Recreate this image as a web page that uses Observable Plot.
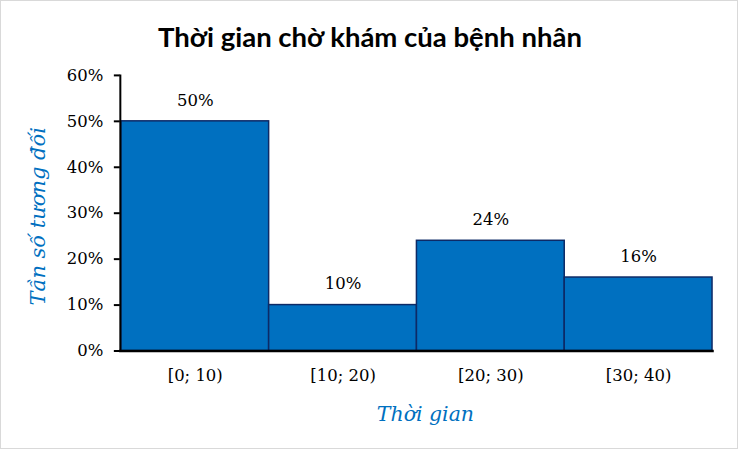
<!DOCTYPE html>
<html><head><meta charset="utf-8">
<script src="https://cdn.jsdelivr.net/npm/d3@7"></script>
<script src="https://cdn.jsdelivr.net/npm/@observablehq/plot@0.6"></script>
<style>
body{margin:0;background:#fff}
#wrap{position:relative;width:738px;height:449px;box-sizing:border-box;border:1px solid #d9d9d9;overflow:hidden;background:#fff}
#title{position:absolute;left:0;width:738px;top:18px;text-align:center;font-family:Lato,"Noto Sans",sans-serif;font-weight:700;font-size:27.5px;color:#000;line-height:36px}
#chart{position:absolute;left:-1px;top:-1px}
</style></head>
<body><div id="wrap"><div id="title">Thời gian chờ khám của bệnh nhân</div><div id="chart"></div></div>
<script>
const categories = ["[0; 10)", "[10; 20)", "[20; 30)", "[30; 40)"];
const values = [0.50, 0.10, 0.24, 0.16];
const yTicks = [0, 0.1, 0.2, 0.3, 0.4, 0.5, 0.6];
const xLabel = "Thời gian";
const yLabel = "Tần số tương đối";

const data = categories.map((c, i) => ({cat: c, v: values[i]}));
const pct = d3.format(".0%");
const serif = "DejaVu Serif";

const plot = Plot.plot({
  width: 738, height: 449,
  marginLeft: 120, marginRight: 25, marginTop: 75, marginBottom: 98,
  style: {fontSize: "16px", color: "#000", background: "transparent", fontFamily: serif},
  x: {domain: categories, padding: 0, label: null},
  y: {domain: [0, 0.6], label: null},
  marks: [
    Plot.barY(data, {x: "cat", y: "v", fill: "#0070C0", stroke: "#0D2A66", strokeWidth: 1.5, inset: 0}),
    Plot.text(data, {x: "cat", y: "v", text: d => pct(d.v), dy: -21, fontSize: 16.5, fill: "#000", fontFamily: serif}),
    Plot.axisY({ticks: yTicks, tickFormat: pct, tickSize: 6, tickPadding: 11, stroke: "#000", strokeWidth: 2, fontSize: 16.5, label: null, fontFamily: serif}),
    Plot.axisX({tickSize: 0, tickPadding: 18, fontSize: 16.5, label: null, fontFamily: serif}),
    Plot.frame({anchor: "left", stroke: "#000", strokeWidth: 2}),
    Plot.frame({anchor: "bottom", stroke: "#000", strokeWidth: 2.5}),
    Plot.text([xLabel], {frameAnchor: "bottom", dx: 9, dy: 70, text: d => d, fontSize: 20.5, fontStyle: "italic", fill: "#0070C0", fontFamily: serif}),
    Plot.text([yLabel], {frameAnchor: "left", textAnchor: "middle", dx: -82, dy: 3, rotate: -90, text: d => d, fontSize: 21, fontStyle: "italic", fill: "#0070C0", fontFamily: serif})
  ]
});
document.getElementById("chart").appendChild(plot);
</script></body></html>
